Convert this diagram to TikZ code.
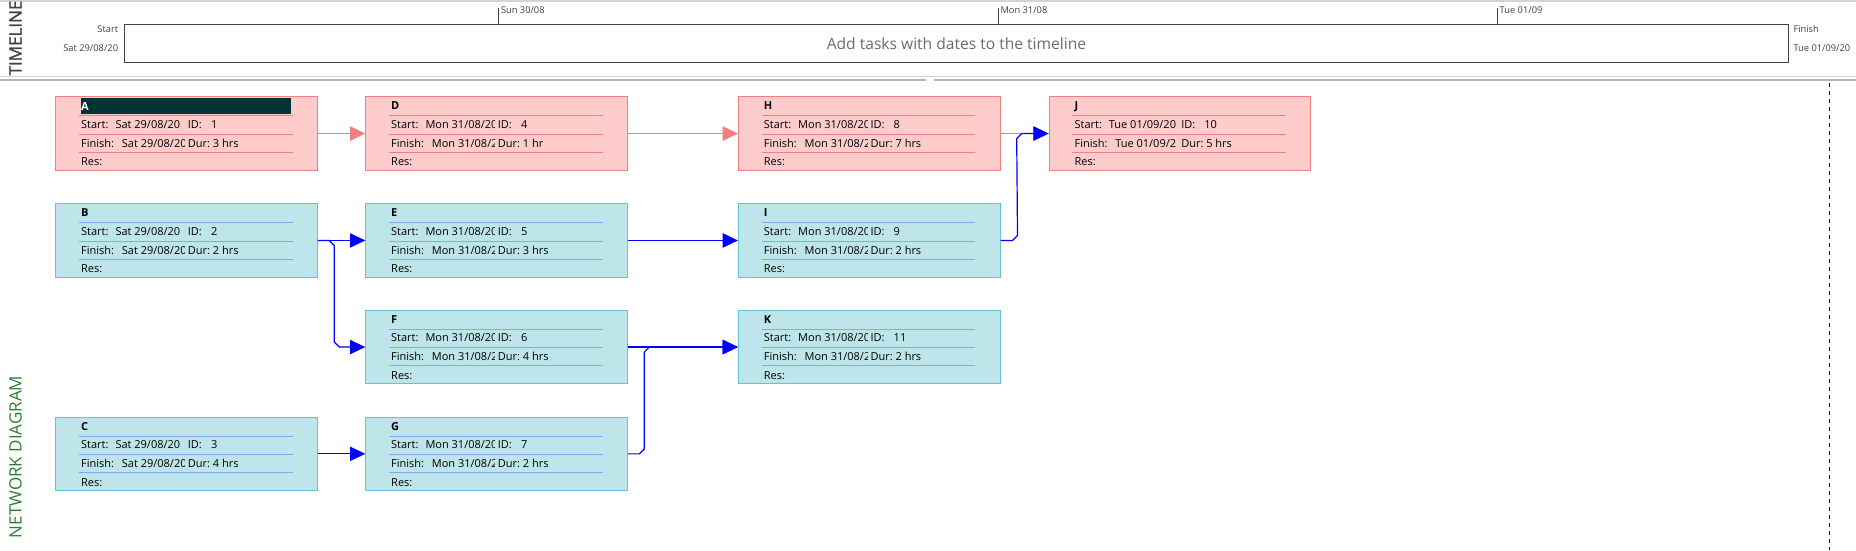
\documentclass[tikz,border=0pt]{standalone}
\usepackage{fontspec}
\setmainfont{Open Sans}
\newfontfamily\tlfont{Open Sans}[FakeBold=1.2]
\usetikzlibrary{arrows.meta}
\definecolor{redfill}{RGB}{255,204,204}
\definecolor{redline}{RGB}{240,128,128}
\definecolor{bluefill}{RGB}{190,230,234}
\definecolor{blueborder}{RGB}{100,196,208}
\definecolor{bluesep}{RGB}{130,170,240}
\definecolor{darkbar}{RGB}{0,51,51}
\definecolor{ndgreen}{RGB}{46,125,50}
\definecolor{tlgray}{RGB}{64,64,64}
\definecolor{lightgray}{RGB}{212,212,212}
\definecolor{midgray}{RGB}{180,180,180}
\tikzset{
  boxred/.style={draw=redline, fill=redfill, line width=1pt},
  boxblue/.style={draw=blueborder, fill=bluefill, line width=1pt},
  sepred/.style={draw=redline, line width=0.9pt},
  sepblue/.style={draw=bluesep, line width=0.9pt},
  txt/.style={anchor=base west, inner sep=0pt, font=\fontsize{11}{13}\selectfont},
  hdr/.style={anchor=base west, inner sep=0pt, font=\fontsize{11}{13}\selectfont\bfseries},
  tltxt/.style={inner sep=0pt, text=tlgray, font=\fontsize{9.3}{11}\selectfont},
  redarrow/.style={draw=redline, line width=1.8pt, -{Triangle[length=15.3pt,width=14.3pt]}},
  bluearrow/.style={draw=blue, line width=1.2pt, -{Triangle[length=15.3pt,width=14.3pt]}},
}
\newcommand\tasknode[9]{%
  \node[box#4, anchor=north west, minimum width=261.5pt, minimum height=73.5pt, inner sep=0pt] (#1) at (#2,#3) {};
  \begin{scope}[shift={(#2,#3)}]
    \draw[sep#4] (23.7,19.4) -- (237.4,19.4);
    \draw[sep#4] (23.7,38) -- (237.4,38);
    \draw[sep#4] (23.7,56) -- (237.4,56);
    \node[hdr] at (25.7,13.5) {#5};
    \node[txt] at (25.7,32) {Start:};
    \node[txt] at (25.7,51) {Finish:};
    \node[txt] at (25.7,69.5) {Res:};
    \begin{scope}
      \clip (0,0) rectangle (129,73.5);
      \node[txt] at (60,32) {#6};
      \node[txt] at (66.4,51) {#8};
    \end{scope}
    \node[txt] at (132.4,32) {ID:};
    \node[txt] at (155.5,32) {#7};
    \node[txt] at (132.4,51) {Dur:};
    \node[txt] at (157.4,51) {#9};
  \end{scope}
}
\begin{document}
\begin{tikzpicture}[x=1pt,y=-1pt]
\useasboundingbox (0,0) rectangle (1856,550);
% separators
\draw[lightgray, line width=1.3pt] (0,1) -- (1856,1);
\draw[lightgray, line width=1.1pt] (0,76.7) -- (1856,76.7);
\draw[midgray, line width=1.1pt] (0,80) -- (926,80);
\draw[midgray, line width=1.1pt] (934,80) -- (1856,80);
% timeline
\node[rotate=90, text=tlgray, font=\fontsize{17}{19}\tlfont, inner sep=0pt] (tltitle) at (15.5,38) {TIMELINE};
\node[draw=tlgray, line width=1pt, anchor=north west, minimum width=1663.3pt, minimum height=38.3pt, inner sep=0pt,
  text=black!58, font=\fontsize{15.6}{18}\selectfont] (tl) at (124.3,24) {Add tasks with dates to the timeline};
\node[tltxt, anchor=east] (st1) at (118.3,29) {Start};
\node[tltxt, anchor=east] (st2) at (118.3,48) {Sat 29/08/20};
\node[tltxt, anchor=west] (fi1) at (1793.3,29) {Finish};
\node[tltxt, anchor=west] (fi2) at (1793.3,48) {Tue 01/09/20};
\coordinate (k1) at (498.8,24);
\coordinate (k2) at (998.3,24);
\coordinate (k3) at (1497.5,24);
\draw[tlgray, line width=0.8pt] (k1) -- ++(0,-16);
\draw[tlgray, line width=0.8pt] (k2) -- ++(0,-16);
\draw[tlgray, line width=0.8pt] (k3) -- ++(0,-16);
\node[tltxt, anchor=west] (kl1) at (500.8,10) {Sun 30/08};
\node[tltxt, anchor=west] (kl2) at (1000.3,10) {Mon 31/08};
\node[tltxt, anchor=west] (kl3) at (1499.5,10) {Tue 01/09};
% network diagram
\node[rotate=90, text=ndgreen, font=\fontsize{17}{19}\selectfont, inner sep=0pt] (ndtitle) at (15.5,457) {NETWORK DIAGRAM};
\draw[black, line width=1pt, dash pattern=on 4pt off 4pt] (1829,83) -- (1829,550);
% nodes
\tasknode{A}{55.3}{96.3}{red}{}{Sat 29/08/20}{1}{Sat 29/08/20}{3 hrs}
\node[fill=darkbar, anchor=north west, minimum width=209.7pt, minimum height=16.3pt, inner sep=0pt] (abar) at (81,97.7) {};
\node[hdr, text=white] (alabel) at (81,110) {A};
\tasknode{D}{365.3}{96.3}{red}{D}{Mon 31/08/20}{4}{Mon 31/08/2}{1 hr}
\tasknode{H}{738}{96.3}{red}{H}{Mon 31/08/20}{8}{Mon 31/08/2}{7 hrs}
\tasknode{J}{1048.7}{96.3}{red}{J}{Tue 01/09/20}{10}{Tue 01/09/2}{5 hrs}
\tasknode{B}{55.3}{203.2}{blue}{B}{Sat 29/08/20}{2}{Sat 29/08/20}{2 hrs}
\tasknode{E}{365.3}{203.2}{blue}{E}{Mon 31/08/20}{5}{Mon 31/08/2}{3 hrs}
\tasknode{I}{738}{203.2}{blue}{I}{Mon 31/08/20}{9}{Mon 31/08/2}{2 hrs}
\tasknode{F}{365.3}{309.8}{blue}{F}{Mon 31/08/20}{6}{Mon 31/08/2}{4 hrs}
\tasknode{K}{738}{309.8}{blue}{K}{Mon 31/08/20}{11}{Mon 31/08/2}{2 hrs}
\tasknode{C}{55.3}{416.6}{blue}{C}{Sat 29/08/20}{3}{Sat 29/08/20}{4 hrs}
\tasknode{G}{365.3}{416.6}{blue}{G}{Mon 31/08/20}{7}{Mon 31/08/2}{2 hrs}
% connectors
\draw[redarrow] (A.east) -- (D.west);
\draw[redarrow] (D.east) -- (H.west);
\draw[redarrow] (H.east) -- (J.west);
\draw[bluearrow] (B.east) -- (E.west);
\draw[bluearrow] (B.east) -- ++(11.5,0) -- ++(5,5) -- ([xshift=16.5pt,yshift=5pt]B.east |- F.west) -- ++(5,5) -- (F.west);
\draw[bluearrow] (C.east) -- (G.west);
\draw[bluearrow] (E.east) -- (I.west);
\draw[bluearrow] (F.east) -- (K.west);
\draw[bluearrow] (I.east) -- ++(12,0) -- ++(5,-5) -- ([xshift=-32pt,yshift=-5pt]J.west) -- ++(5,-5) -- (J.west);
\draw[bluearrow] (G.east) -- ++(11.5,0) -- ++(5,-5) -- ([xshift=16.5pt,yshift=-5pt]F.east) -- ++(5,-5) -- (K.west);
\end{tikzpicture}
\end{document}
